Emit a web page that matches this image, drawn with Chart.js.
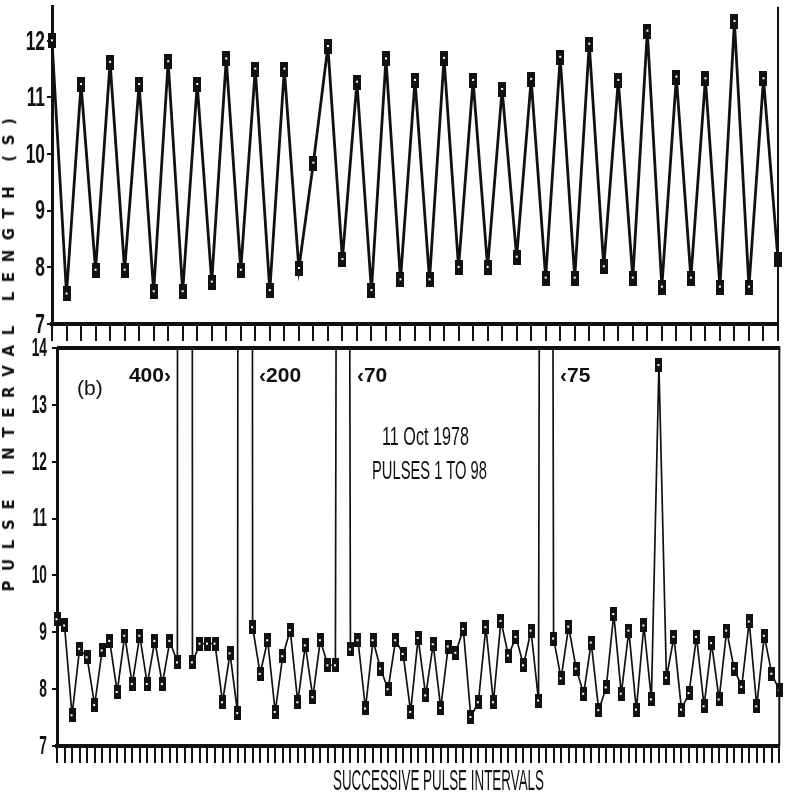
<!DOCTYPE html>
<html>
<head>
<meta charset="utf-8">
<script src="https://cdn.jsdelivr.net/npm/chart.js@4.4.1/dist/chart.umd.min.js"></script>
<style>
  body { margin: 0; background: #fff; width: 785px; height: 800px; position: relative; overflow: hidden; }
  canvas { position: absolute; left: 0; }
  #topChart { top: 0; }
  #bottomChart { top: 325px; }
  .txt { position: absolute; white-space: nowrap; color: #111; line-height: 1; transform-origin: 0 0; }
  #ytitle { font: bold 15px "DejaVu Sans", sans-serif; letter-spacing: 9.6px; left: 9px; top: 350px;
            transform: translate(-50%, -50%) rotate(-90deg); transform-origin: 50% 50%; }
</style>
</head>
<body>
<canvas id="topChart" width="785" height="346"></canvas>
<canvas id="bottomChart" width="785" height="475"></canvas>
<div class="txt" id="ytitle">PULSE INTERVAL LENGTH (S)</div>
<div class="txt" id="xtitle">SUCCESSIVE PULSE INTERVALS</div>
<div class="txt" id="panel">(b)</div>
<div class="txt" id="date">11 Oct 1978</div>
<div class="txt" id="pulses">PULSES 1 TO 98</div>
<script>
// pulse lengths, upper panel
const topPulse = [12.0, 7.53, 11.23, 7.95, 11.62, 7.95, 11.23, 7.57, 11.63, 7.57,
  11.23, 7.74, 11.68, 7.95, 11.5, 7.59, 11.5, 7.98, 9.84, 11.9,
  8.14, 11.27, 7.59, 11.68, 7.78, 11.3, 7.78, 11.69, 8.0, 11.3,
  8.0, 11.14, 8.18, 11.32, 7.81, 11.71, 7.81, 11.94, 8.01, 11.3,
  7.81, 12.17, 7.65, 11.36, 7.81, 11.33, 7.65, 12.34, 7.65, 11.33, 8.13];

// pulse intervals, lower panel (b); 400, 200, 70, 75 run off the top
const bottomInterval = [9.23, 9.12, 7.54, 8.71, 8.56, 7.72, 8.68, 8.85, 7.95, 8.94,
  8.09, 8.94, 8.09, 8.85, 8.09, 8.85, 8.47, 400, 8.47, 8.8,
  8.8, 8.8, 7.77, 8.63, 7.58, 200, 9.09, 8.27, 8.86, 7.6,
  8.58, 9.04, 7.77, 8.77, 7.86, 8.86, 8.42, 8.42, 70, 8.7,
  8.86, 7.66, 8.86, 8.36, 8.0, 8.86, 8.62, 7.6, 8.9, 7.89,
  8.79, 7.67, 8.75, 8.64, 9.06, 7.51, 7.77, 9.09, 7.77, 9.2,
  8.59, 8.92, 8.42, 9.03, 7.8, 75, 8.89, 8.19, 9.1, 8.36,
  7.92, 8.82, 7.63, 8.03, 9.32, 7.92, 9.03, 7.64, 9.12, 7.82,
  13.7, 8.2, 8.92, 7.64, 7.93, 8.92, 7.7, 8.81, 7.82, 9.03,
  8.36, 8.04, 9.19, 7.7, 8.94, 8.27, 7.98];

const topLabels = topPulse.map((v, i) => i + 1);
const bottomLabels = bottomInterval.map((v, i) => i + 1);
const topTicks = [7, 8, 9, 10, 11, 12];
const bottomTicks = [7, 8, 9, 10, 11, 12, 13, 14];

// off-scale intervals and the notes written beside them
const spikeIndex = [17, 25, 38, 65];
const spikeNotes = ['400\u203A', '\u2039200', '\u203970', '\u203975'];
const spikeSide = ['left', 'right', 'right', 'right'];

const INK = '#111';
const sans = '"Liberation Sans", Arial, sans-serif';

function marker(w, h) {
  const c = document.createElement('canvas');
  c.width = w; c.height = h;
  const g = c.getContext('2d');
  g.fillStyle = INK;
  g.fillRect(0, 0, w, h);
  g.fillStyle = '#fff';
  g.fillRect(Math.floor(w / 2) - 1, Math.floor(h / 2) - 1, 2, 2);
  return c;
}

const frame = {
  id: 'frame',
  afterDraw(chart, args, opts) {
    const { ctx, chartArea: a } = chart;
    ctx.save();
    ctx.strokeStyle = INK;
    ctx.lineWidth = opts.right || 2;
    ctx.beginPath(); ctx.moveTo(a.right, a.top); ctx.lineTo(a.right, a.bottom); ctx.stroke();
    if (opts.top) {
      ctx.lineWidth = opts.top;
      ctx.beginPath(); ctx.moveTo(a.left, a.top); ctx.lineTo(a.right + 1, a.top); ctx.stroke();
    }
    ctx.restore();
  }
};

// the y tick labels, squeezed like the plotter digits
const squeezedTicks = {
  id: 'squeezedTicks',
  afterDraw(chart, args, opts) {
    const { ctx } = chart;
    const y = chart.scales.y;
    ctx.save();
    ctx.font = 'bold ' + opts.size + 'px ' + sans;
    ctx.fillStyle = INK;
    ctx.textAlign = 'right';
    ctx.textBaseline = 'middle';
    y.ticks.forEach(t => {
      const py = y.getPixelForValue(t.value);
      ctx.save();
      ctx.translate(y.right - opts.gap, py + 1);
      ctx.scale(opts.squeeze, 1);
      ctx.fillText(String(t.value), 0, 0);
      ctx.restore();
    });
    ctx.restore();
  }
};

const spikeLabels = {
  id: 'spikeLabels',
  afterDatasetsDraw(chart) {
    const { ctx, scales: { x, y } } = chart;
    ctx.save();
    ctx.font = 'bold 21px ' + sans;
    ctx.fillStyle = INK;
    ctx.textBaseline = 'middle';
    spikeIndex.forEach((idx, k) => {
      const px = x.getPixelForValue(idx);
      const onLeft = spikeSide[k] === 'left';
      ctx.textAlign = onLeft ? 'right' : 'left';
      ctx.fillText(spikeNotes[k], px + (onLeft ? -14 : 14), y.getPixelForValue(13.5));
    });
    ctx.restore();
  }
};

function axes(yMin, yMax, ticks, yWidth, xHeight) {
  return {
    x: {
      type: 'category',
      offset: false,
      grid: { display: true, offset: false, drawOnChartArea: false, drawTicks: true, tickLength: 17, lineWidth: 2, color: INK },
      border: { display: true, width: 4, color: INK },
      ticks: { display: false },
      afterFit: s => { s.height = xHeight; }
    },
    y: {
      min: yMin, max: yMax,
      grid: { drawOnChartArea: false, drawTicks: true, tickLength: 5, lineWidth: 2, color: INK },
      border: { display: true, width: 3, color: INK },
      ticks: { display: false },
      afterBuildTicks: s => { s.ticks = ticks.map(v => ({ value: v })); },
      afterFit: s => { s.width = yWidth; s.paddingTop = 0; s.paddingBottom = 0; }
    }
  };
}

function build() {
  new Chart(document.getElementById('topChart'), {
    type: 'line',
    data: {
      labels: topLabels,
      datasets: [{
        data: topPulse, borderColor: INK, borderWidth: 2.8, tension: 0,
        pointStyle: marker(8, 15), pointRadius: 4
      }]
    },
    options: {
      responsive: false, animation: false, devicePixelRatio: 1,
      layout: { padding: { left: 0, right: 7, top: 0, bottom: 0 } },
      plugins: {
        legend: { display: false }, tooltip: { enabled: false },
        frame: { right: 2 },
        squeezedTicks: { size: 28, squeeze: 0.62, gap: 7 }
      },
      scales: axes(7, 12.6, topTicks, 52, 22)
    },
    plugins: [frame, squeezedTicks]
  });

  new Chart(document.getElementById('bottomChart'), {
    type: 'line',
    data: {
      labels: bottomLabels,
      datasets: [{
        data: bottomInterval, borderColor: INK, borderWidth: 1.7, tension: 0,
        pointStyle: marker(7, 14), pointRadius: 4
      }]
    },
    options: {
      responsive: false, animation: false, devicePixelRatio: 1,
      layout: { padding: { left: 0, right: 2, top: 23, bottom: 0 } },
      plugins: {
        legend: { display: false }, tooltip: { enabled: false },
        frame: { right: 2, top: 4 },
        squeezedTicks: { size: 25, squeeze: 0.55, gap: 10 }
      },
      scales: axes(7, 14, bottomTicks, 57, 54)
    },
    plugins: [frame, squeezedTicks, spikeLabels]
  });

  // squeezed plotter lettering
  function place(id, font, left, top, width) {
    const el = document.getElementById(id);
    el.style.font = font;
    el.style.left = left + 'px';
    el.style.top = top + 'px';
    if (width) {
      const w = el.getBoundingClientRect().width;
      el.style.transform = 'scaleX(' + (width / w) + ')';
    }
  }
  place('xtitle', '29px ' + sans, 333, 764, 211);
  place('panel', '21px ' + sans, 77, 376, 0);
  place('date', '26px ' + sans, 382, 421, 87);
  place('pulses', '26px ' + sans, 372, 455, 115);
}

if (document.fonts && document.fonts.ready) document.fonts.ready.then(build); else build();
</script>
</body>
</html>
